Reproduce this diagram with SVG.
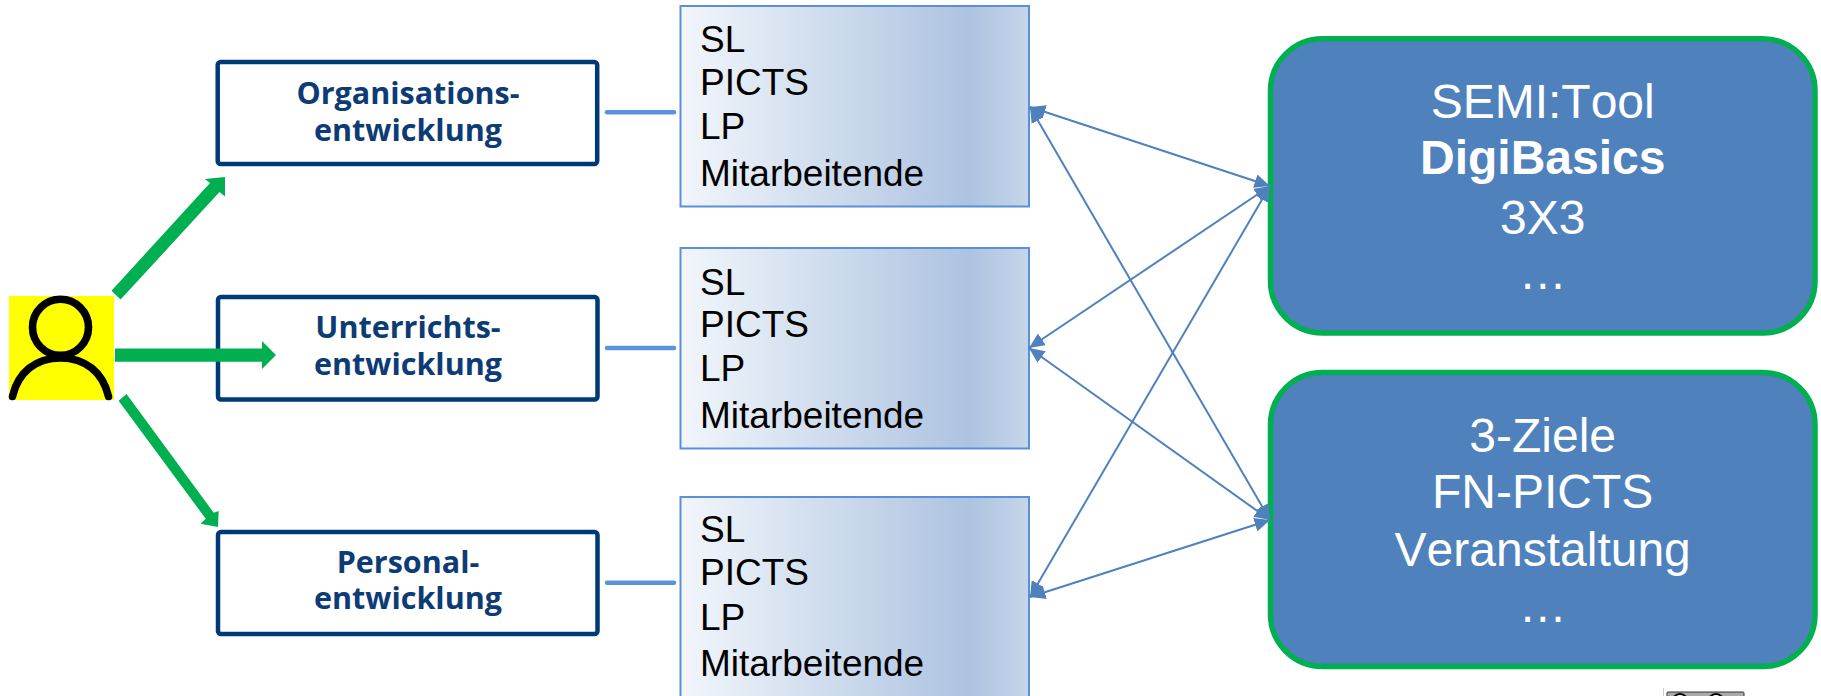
<svg xmlns="http://www.w3.org/2000/svg" width="1821" height="696" viewBox="0 0 1821 696">
<style>
.area{fill:#fff;stroke:#003a75;stroke-width:4.5}
.areat{font:bold 30.5px "Open Sans","Noto Sans",sans-serif;fill:#0d3b75;text-anchor:middle}
.who{fill:url(#g);stroke:#5b8fd6;stroke-width:2}
.whot{font:37px "Liberation Sans",Arial,sans-serif;fill:#000}
.tool{fill:#4f81bd;stroke:#00b050;stroke-width:5.5}
.toolt{font:48px "Liberation Sans",Arial,sans-serif;font-kerning:none;fill:#fff;text-anchor:middle}
.link{stroke:#5b92e0;stroke-width:4.5;stroke-linecap:round}
.thin{stroke:#4f81bd;stroke-width:2;fill:none;marker-start:url(#h);marker-end:url(#h)}
.green{fill:#00b050}
</style>
<defs>
<linearGradient id="g" x1="0" y1="0" x2="1" y2="0"><stop offset="0" stop-color="#f2f6fb"/><stop offset=".83" stop-color="#adc3e0"/><stop offset="1" stop-color="#c6d6ea"/></linearGradient>
<marker id="h" markerUnits="userSpaceOnUse" markerWidth="16" markerHeight="14" refX="15.5" refY="7" orient="auto-start-reverse" viewBox="0 0 16 14"><path d="M0,0 L15.5,7 L0,14Z" fill="#4f81bd"/></marker>
</defs>
<g id="person">
<rect x="9" y="296" width="105" height="104" fill="#ff0"/>
<circle cx="60.5" cy="327.3" r="28" fill="none" stroke="#000" stroke-width="7.6"/>
<path d="M12.5,396.5 C18,372 36,358 60.5,358 C85,358 103,372 108.5,396.5" fill="none" stroke="#000" stroke-width="7.6" stroke-linecap="round"/>
</g>
<g id="area1"><rect class="area" x="217.7" y="62" width="379.5" height="102" rx="3"/><text class="areat" x="408" y="103.5">Organisations-</text><text class="areat" x="408" y="140.7">entwicklung</text></g>
<g id="area2"><rect class="area" x="218" y="297" width="379.5" height="102.5" rx="3"/><text class="areat" x="408" y="338">Unterrichts-</text><text class="areat" x="408" y="375">entwicklung</text></g>
<g id="area3"><rect class="area" x="218" y="532" width="379.5" height="102" rx="3"/><text class="areat" x="408" y="573">Personal-</text><text class="areat" x="408" y="609">entwicklung</text></g>
<g id="who1"><rect class="who" x="680.5" y="6" width="348.5" height="200.5"/><text class="whot" x="700" y="52.4">SL</text><text class="whot" x="700" y="94.5">PICTS</text><text class="whot" x="700" y="139">LP</text><text class="whot" x="700" y="185.5">Mitarbeitende</text></g>
<g id="who2"><rect class="who" x="680.5" y="248" width="348.5" height="200.5"/><text class="whot" x="700" y="294.7">SL</text><text class="whot" x="700" y="337.3">PICTS</text><text class="whot" x="700" y="380.5">LP</text><text class="whot" x="700" y="427.9">Mitarbeitende</text></g>
<g id="who3"><rect class="who" x="680.5" y="497" width="348.5" height="210"/><text class="whot" x="700" y="542.4">SL</text><text class="whot" x="700" y="585">PICTS</text><text class="whot" x="700" y="630">LP</text><text class="whot" x="700" y="676.4">Mitarbeitende</text></g>
<g id="tool1"><rect class="tool" x="1270.5" y="38.7" width="544.5" height="294.3" rx="52"/><text class="toolt" x="1542.7" y="118">SEMI:Tool</text><text class="toolt" x="1542.7" y="174.4" style="font-weight:bold">DigiBasics</text><text class="toolt" x="1542.7" y="233.5">3X3</text><text class="toolt" x="1542.7" y="288.5">…</text></g>
<g id="tool2"><rect class="tool" x="1270.5" y="372.5" width="544.5" height="294" rx="52"/><text class="toolt" x="1542.7" y="451.8">3-Ziele</text><text class="toolt" x="1542.7" y="508.2">FN-PICTS</text><text class="toolt" x="1542.7" y="566">Veranstaltung</text><text class="toolt" x="1542.7" y="622.3">…</text></g>
<g id="licence">
<line x1="1663.5" y1="688" x2="1663.5" y2="696" stroke="#ccc" stroke-width="1"/>
<rect x="1667" y="692" width="77" height="8" rx="1" fill="#aaa" stroke="#333" stroke-width="1"/>
<circle cx="1680" cy="702" r="8" fill="#fff" stroke="#000" stroke-width="2"/>
<circle cx="1716" cy="702" r="8" fill="#fff" stroke="#000" stroke-width="2"/>
</g>
<g id="connectors">
<line class="link" x1="607" y1="112.3" x2="674" y2="112.3"/>
<line class="link" x1="607" y1="348" x2="674" y2="348"/>
<line class="link" x1="607" y1="582.8" x2="674" y2="582.8"/>
<line class="thin" x1="1030" y1="107" x2="1270" y2="186"/>
<line class="thin" x1="1030" y1="107" x2="1270" y2="520"/>
<line class="thin" x1="1029" y1="348" x2="1270" y2="186"/>
<line class="thin" x1="1029" y1="348" x2="1270" y2="520"/>
<line class="thin" x1="1030" y1="597" x2="1270" y2="186"/>
<line class="thin" x1="1030" y1="597" x2="1270" y2="520"/>
<polygon class="green" points="111.5,290.7 210,183 204.8,179 225,177 225,196.6 219.5,192 120.6,299.6"/>
<polygon class="green" points="115,348.4 262,348.4 262,341 276,355 262,369 262,361.7 115,361.7"/>
<polygon class="green" points="118.6,400.8 205.7,518.7 200.5,523.7 218,527 218.7,511 213.7,512.7 126.5,394"/>
</g>
</svg>
